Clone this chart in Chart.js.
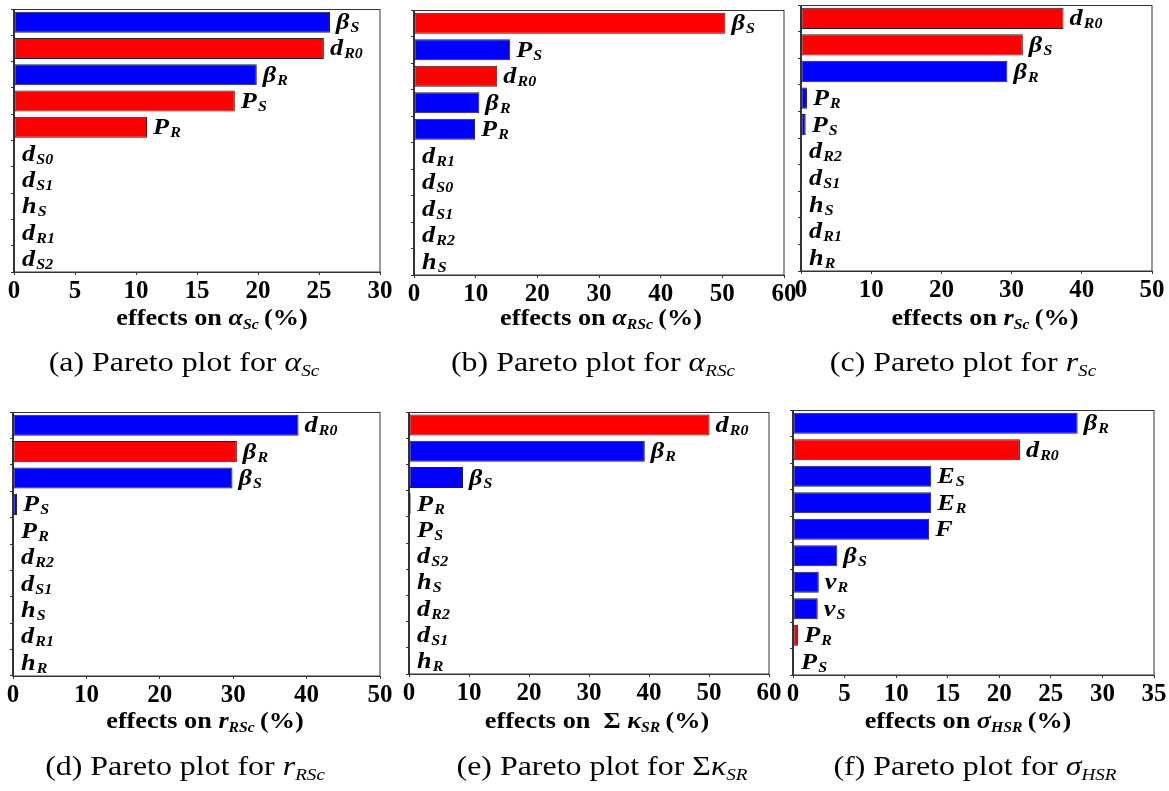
<!DOCTYPE html>
<html>
<head>
<meta charset="utf-8">
<title>Pareto plots of parameter effects</title>
<script src="https://cdn.jsdelivr.net/npm/chart.js"></script>
<style>
  body { margin: 0; background: #fff; }
  #figure { position: relative; width: 1169px; height: 791px; overflow: hidden; }
  #figure canvas { position: absolute; }
  .axis-title, .caption {
    position: absolute;
    white-space: nowrap;
    font-family: "Liberation Serif", "Times New Roman", serif;
    color: #000;
    line-height: 1;
  }
  .axis-title { font-size: 23px; font-weight: bold; }
  .caption { font-size: 28px; }
  .axis-title sub, .caption sub {
    font-size: 0.6em;
    vertical-align: -0.3em;
    line-height: 0;
    font-style: italic;
  }
</style>
</head>
<body>
<div id="figure"></div>

<script>
  // (a) effects on alpha_Sc
  const labelsA = ['β_S', 'd_R0', 'β_R', 'P_S', 'P_R', 'd_S0', 'd_S1', 'h_S', 'd_R1', 'd_S2'];
  const valuesA = [25.9, 25.4, 19.9, 18.1, 10.9, 0, 0, 0, 0, 0];
  const signsA  = [1, -1, 1, -1, -1, 1, 1, 1, 1, 1];
  const ticksA  = [0, 5, 10, 15, 20, 25, 30];

  // (b) effects on alpha_RSc
  const labelsB = ['β_S', 'P_S', 'd_R0', 'β_R', 'P_R', 'd_R1', 'd_S0', 'd_S1', 'd_R2', 'h_S'];
  const valuesB = [50.5, 15.6, 13.5, 10.6, 9.9, 0.1, 0.05, 0.05, 0.05, 0.05];
  const signsB  = [-1, 1, -1, 1, 1, 1, 1, 1, 1, 1];
  const ticksB  = [0, 10, 20, 30, 40, 50, 60];

  // (c) effects on r_Sc
  const labelsC = ['d_R0', 'β_S', 'β_R', 'P_R', 'P_S', 'd_R2', 'd_S1', 'h_S', 'd_R1', 'h_R'];
  const valuesC = [37.4, 31.6, 29.4, 0.85, 0.67, 0.15, 0.1, 0.05, 0.05, 0.05];
  const signsC  = [-1, -1, 1, 1, 1, 1, 1, 1, 1, 1];
  const ticksC  = [0, 10, 20, 30, 40, 50];

  // (d) effects on r_RSc
  const labelsD = ['d_R0', 'β_R', 'β_S', 'P_S', 'P_R', 'd_R2', 'd_S1', 'h_S', 'd_R1', 'h_R'];
  const valuesD = [38.9, 30.5, 29.9, 0.55, 0.15, 0.05, 0.05, 0.05, 0.05, 0.05];
  const signsD  = [1, -1, 1, 1, -1, 1, 1, 1, 1, 1];
  const ticksD  = [0, 10, 20, 30, 40, 50];

  // (e) effects on sum kappa_SR
  const labelsE = ['d_R0', 'β_R', 'β_S', 'P_R', 'P_S', 'd_S2', 'h_S', 'd_R2', 'd_S1', 'h_R'];
  const valuesE = [50.1, 39.3, 9.0, 0.28, 0.15, 0.05, 0.05, 0.05, 0.05, 0.05];
  const signsE  = [-1, 1, 1, 1, 1, 1, 1, 1, 1, 1];
  const ticksE  = [0, 10, 20, 30, 40, 50, 60];

  // (f) effects on sigma_HSR
  const labelsF = ['β_R', 'd_R0', 'E_S', 'E_R', 'F', 'β_S', 'ν_R', 'ν_S', 'P_R', 'P_S'];
  const valuesF = [27.6, 22.0, 13.4, 13.4, 13.2, 4.3, 2.5, 2.4, 0.5, 0.1];
  const signsF  = [1, -1, 1, 1, 1, 1, 1, 1, -1, 1];
  const ticksF  = [0, 5, 10, 15, 20, 25, 30, 35];

  const BLUE = '#0000ff';
  const RED = '#ff0000';
  const SERIF = '"Liberation Serif", "Times New Roman", serif';

  // plot box [left, top, right, bottom] and text anchors of every panel
  const panels = [
    { labels: labelsA, values: valuesA, signs: signsA, ticks: ticksA, box: [14, 9, 380, 272], row: 0, titleX: 212, capX: 184,
      title: 'effects on <i>α<sub>Sc</sub></i>&thinsp;(%)', caption: '(a) Pareto plot for <i>α<sub>Sc</sub></i>' },
    { labels: labelsB, values: valuesB, signs: signsB, ticks: ticksB, box: [414, 10, 784, 275], row: 0, titleX: 601, capX: 593,
      title: 'effects on <i>α<sub>RSc</sub></i>&thinsp;(%)', caption: '(b) Pareto plot for <i>α<sub>RSc</sub></i>' },
    { labels: labelsC, values: valuesC, signs: signsC, ticks: ticksC, box: [801, 5, 1152, 271], row: 0, titleX: 985, capX: 963,
      title: 'effects on <i>r<sub>Sc</sub></i>&thinsp;(%)', caption: '(c) Pareto plot for <i>r<sub>Sc</sub></i>' },
    { labels: labelsD, values: valuesD, signs: signsD, ticks: ticksD, box: [13, 412, 380, 676], row: 1, titleX: 205, capX: 185,
      title: 'effects on <i>r<sub>RSc</sub></i>&thinsp;(%)', caption: '(d) Pareto plot for <i>r<sub>RSc</sub></i>' },
    { labels: labelsE, values: valuesE, signs: signsE, ticks: ticksE, box: [409, 412, 769, 674], row: 1, titleX: 597, capX: 602,
      title: 'effects on&nbsp; Σ <i>κ<sub>SR</sub></i>&thinsp;(%)', caption: '(e) Pareto plot for Σ<i>κ<sub>SR</sub></i>' },
    { labels: labelsF, values: valuesF, signs: signsF, ticks: ticksF, box: [793, 410, 1154, 675], row: 1, titleX: 968, capX: 975,
      title: 'effects on <i>σ<sub>HSR</sub></i>&thinsp;(%)', caption: '(f) Pareto plot for <i>σ<sub>HSR</sub></i>' }
  ];

  const titleTop = [306, 709];
  const captionTop = [348, 752];
  const STRETCH = 1.14;

  // canvas margins around the plot box
  const padL = 14, padT = 8, padR = 26, padB = 34;

  // closed box around the plotting area
  const frame = {
    id: 'frame',
    afterDraw(chart) {
      const { left, top, right, bottom } = chart.chartArea;
      const ctx = chart.ctx;
      ctx.save();
      ctx.strokeStyle = '#333';
      ctx.lineWidth = 1;
      ctx.strokeRect(Math.round(left) - 0.5, Math.round(top) + 0.5, Math.round(right - left) + 0.5, Math.round(bottom - top) - 0.5);
      ctx.restore();
    }
  };

  // parameter name with subscript just after the end of each bar
  const barNames = {
    id: 'barNames',
    afterDatasetsDraw(chart) {
      const ctx = chart.ctx;
      const meta = chart.getDatasetMeta(0);
      const left = chart.chartArea.left;
      ctx.save();
      ctx.fillStyle = '#000';
      ctx.textBaseline = 'alphabetic';
      chart.data.labels.forEach((name, i) => {
        const bar = meta.data[i];
        const [main, sub] = name.split('_');
        const x = Math.max(bar.x + 6, left + 8);
        const y = bar.y + 7;
        ctx.save();
        ctx.translate(x, y);
        ctx.scale(STRETCH, 1);
        ctx.font = 'italic bold 23px ' + SERIF;
        ctx.fillText(main, 0, 0);
        const w = ctx.measureText(main).width;
        if (sub) {
          ctx.font = 'italic bold 14px ' + SERIF;
          ctx.fillText(sub, w + 1, 3);
        }
        ctx.restore();
      });
      ctx.restore();
    }
  };

  const figure = document.getElementById('figure');

  panels.forEach(p => {
    const [l, t, r, b] = p.box;
    const canvas = document.createElement('canvas');
    canvas.width = (r - l) + padL + padR;
    canvas.height = (b - t) + padT + padB;
    canvas.style.left = (l - padL) + 'px';
    canvas.style.top = (t - padT) + 'px';
    figure.appendChild(canvas);

    const max = p.ticks[p.ticks.length - 1];
    const step = p.ticks[1] - p.ticks[0];

    new Chart(canvas.getContext('2d'), {
      type: 'bar',
      data: {
        labels: p.labels,
        datasets: [{
          data: p.values,
          backgroundColor: p.signs.map(s => s > 0 ? BLUE : RED),
          borderColor: '#222',
          borderWidth: 1,
          borderSkipped: false,
          barPercentage: 0.8,
          categoryPercentage: 1.0
        }]
      },
      options: {
        indexAxis: 'y',
        responsive: false,
        animation: false,
        layout: { padding: { left: 0, top: padT, right: padR, bottom: 0 } },
        plugins: { legend: { display: false }, tooltip: { enabled: false } },
        scales: {
          x: {
            min: 0,
            max: max,
            ticks: {
              stepSize: step,
              autoSkip: false,
              maxRotation: 0,
              padding: 2,
              color: '#000',
              font: { family: SERIF, size: 25, weight: 'bold' }
            },
            grid: { drawOnChartArea: false, tickLength: 3, color: '#333' },
            border: { color: '#333' },
            afterFit(scale) { scale.height = padB; }
          },
          y: {
            ticks: { display: false },
            grid: { drawOnChartArea: false, offset: true, tickLength: 3, color: '#333' },
            border: { color: '#333' },
            afterFit(scale) { scale.width = padL; }
          }
        }
      },
      plugins: [frame, barNames]
    });

    const title = document.createElement('div');
    title.className = 'axis-title';
    title.innerHTML = p.title;
    title.style.left = p.titleX + 'px';
    title.style.top = titleTop[p.row] + 'px';
    title.style.transform = 'translateX(-50%) scaleX(' + STRETCH + ')';
    figure.appendChild(title);

    const caption = document.createElement('div');
    caption.className = 'caption';
    caption.innerHTML = p.caption;
    caption.style.left = p.capX + 'px';
    caption.style.top = captionTop[p.row] + 'px';
    caption.style.transform = 'translateX(-50%) scaleX(' + STRETCH + ')';
    figure.appendChild(caption);
  });
</script>
</body>
</html>
